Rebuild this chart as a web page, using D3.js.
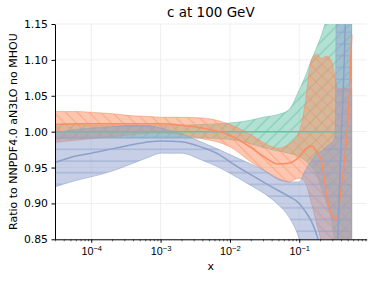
<!DOCTYPE html>
<html>
<head>
<meta charset="utf-8">
<script src="https://cdn.jsdelivr.net/npm/d3@7"></script>
<style>
  body { margin: 0; background: #fff; }
  svg { display: block; font-family: "DejaVu Sans", sans-serif; }
</style>
</head>
<body>
<div id="chart"></div>
<script>
// x grid (log) shared by every series
const xs = [3e-5, 6e-5, 1e-4, 2e-4, 4e-4, 7e-4, 1e-3, 2e-3, 4e-3, 7e-3, 1e-2, 2e-2, 3e-2, 5e-2, 7e-2,
            0.1, 0.12, 0.15, 0.18, 0.21, 0.25, 0.3, 0.33, 0.36, 0.4, 0.45, 0.5, 0.54, 0.57];

// green : reference (ratio = 1)
const greenMid = xs.map(() => 1.0);
const greenHi  = [1.010, 1.010, 1.009, 1.009, 1.009, 1.009, 1.009, 1.009, 1.010, 1.011, 1.012, 1.016, 1.020, 1.024, 1.030,
                  1.058, 1.075, 1.100, 1.118, 1.135, 1.160, 1.20, 1.25, 1.30, 1.35, 1.40, 1.45, 1.50, 1.50];
const greenLo  = [0.990, 0.990, 0.991, 0.991, 0.991, 0.991, 0.991, 0.991, 0.991, 0.990, 0.989, 0.983, 0.978, 0.973, 0.970,
                  0.965, 0.960, 0.950, 0.940, 0.920, 0.900, 0.870, 0.840, 0.800, 0.750, 0.700, 0.650, 0.600, 0.600];

// orange
const orangeMid = [1.010, 1.011, 1.011, 1.011, 1.011, 1.011, 1.011, 1.009, 1.005, 1.000, 0.995, 0.978, 0.966, 0.955, 0.956,
                   0.965, 0.975, 0.980, 0.972, 0.958, 0.910, 0.882, 0.877, 0.885, 0.920, 0.960, 1.010, 1.070, 1.135];
const orangeHi  = [1.028, 1.028, 1.027, 1.025, 1.022, 1.021, 1.020, 1.020, 1.019, 1.015, 1.010, 0.996, 0.985, 0.977, 0.982,
                   1.000, 1.035, 1.100, 1.108, 1.102, 1.105, 1.095, 1.075, 1.060, 1.060, 1.060, 1.060, 1.060, 1.060];
const orangeLo  = [0.985, 0.988, 0.990, 0.993, 0.996, 0.998, 0.998, 0.996, 0.990, 0.985, 0.979, 0.958, 0.947, 0.933, 0.930,
                   0.935, 0.930, 0.900, 0.870, 0.845, 0.800, 0.750, 0.700, 0.700, 0.700, 0.700, 0.700, 0.700, 0.700];

// blue
const blueMid = [0.957, 0.966, 0.970, 0.976, 0.982, 0.986, 0.987, 0.986, 0.978, 0.968, 0.958, 0.940, 0.930, 0.918, 0.910,
                 0.900, 0.890, 0.875, 0.855, 0.830, 0.750, 0.650, 0.750, 0.850, 0.980, 1.110, 1.300, 1.500, 1.500];
const blueHi  = [0.998, 1.003, 1.005, 1.007, 1.009, 1.008, 1.005, 0.997, 0.985, 0.975, 0.968, 0.955, 0.947, 0.935, 0.930,
                 0.930, 0.945, 0.960, 0.970, 0.973, 0.980, 0.985, 0.995, 1.600, 1.600, 1.600, 1.600, 1.600, 1.600];
const blueLo  = [0.923, 0.932, 0.937, 0.945, 0.956, 0.965, 0.970, 0.970, 0.960, 0.950, 0.942, 0.925, 0.915, 0.898, 0.882,
                 0.850, 0.820, 0.750, 0.700, 0.650, 0.600, 0.550, 0.500, 0.500, 0.500, 0.500, 0.500, 0.500, 0.500];

const yTicks = [0.85, 0.90, 0.95, 1.00, 1.05, 1.10, 1.15];
const xMajor = [1e-4, 1e-3, 1e-2, 1e-1];
const xMajorExp = ["\u22124", "\u22123", "\u22122", "\u22121"];

const title = "c at 100 GeV";
const yLabel = "Ratio to NNPDF4.0 aN3LO no MHOU";
const xLabel = "x";

//---------------------------------------------------------------------------------------

const W = 374, H = 281;
const plot = { left: 55, right: 366.7, top: 24, bottom: 239.3 };

const svg = d3.select("#chart").append("svg")
  .attr("width", W).attr("height", H)
  .attr("viewBox", [0, 0, W, H]);

const x = d3.scaleLog().domain([3e-5, 0.94]).range([plot.left, plot.right]);
const y = d3.scaleLinear().domain([0.85, 1.15]).range([plot.bottom, plot.top]);

const defs = svg.append("defs");
defs.append("clipPath").attr("id", "clip")
  .append("rect")
  .attr("x", plot.left).attr("y", plot.top)
  .attr("width", plot.right - plot.left).attr("height", plot.bottom - plot.top);

// motifs de hachures (un trait par tuile)
const s = 11.7;
const hatches = [
  { id: "h-green", color: "#66c2a5", op: 0.75, d: `M0,${s} L${s},0 M-1,1 L1,-1 M${s-1},${s+1} L${s+1},${s-1}` },
  { id: "h-orange", color: "#fc8d62", op: 0.6, d: `M0,0 L${s},${s} M-1,${s-1} L1,${s+1} M${s-1},-1 L${s+1},1` },
  { id: "h-blue", color: "#8da0cb", op: 0.75, d: `M0,${s*0.76} L${s},${s*0.76}` }
];
hatches.forEach(h => {
  defs.append("pattern")
    .attr("id", h.id)
    .attr("patternUnits", "userSpaceOnUse")
    .attr("width", s).attr("height", s)
    .append("path")
    .attr("d", h.d)
    .attr("stroke", h.color)
    .attr("stroke-opacity", h.op)
    .attr("stroke-width", 1)
    .attr("fill", "none");
});

// grille
const grid = svg.append("g");
grid.selectAll(".gx").data(xMajor).join("line")
  .attr("x1", d => x(d)).attr("x2", d => x(d))
  .attr("y1", plot.top).attr("y2", plot.bottom)
  .attr("stroke", "#ebebeb").attr("stroke-width", 0.8);
grid.selectAll(".gy").data(yTicks).join("line")
  .attr("x1", plot.left).attr("x2", plot.right)
  .attr("y1", d => y(d)).attr("y2", d => y(d))
  .attr("stroke", "#ebebeb").attr("stroke-width", 0.8);

//---------------------------------------------------------------------------------------

// bandes + lignes centrales
const series = [
  { color: "#66c2a5", hatch: "h-green", mid: greenMid, hi: greenHi, lo: greenLo },
  { color: "#fc8d62", hatch: "h-orange", mid: orangeMid, hi: orangeHi, lo: orangeLo },
  { color: "#8da0cb", hatch: "h-blue", mid: blueMid, hi: blueHi, lo: blueLo }
];

const plotG = svg.append("g").attr("clip-path", "url(#clip)");

const area = d3.area()
  .x(d => x(d.x)).y0(d => y(d.lo)).y1(d => y(d.hi))
  .curve(d3.curveMonotoneX);
const line = d3.line()
  .x(d => x(d.x)).y(d => y(d.v))
  .curve(d3.curveMonotoneX);

series.forEach(sr => {
  const pts = xs.map((v, i) => ({ x: v, lo: sr.lo[i], hi: sr.hi[i] }));
  plotG.append("path").datum(pts)
    .attr("d", area)
    .attr("fill", sr.color).attr("fill-opacity", 0.5)
    .attr("stroke", sr.color).attr("stroke-opacity", 0.6).attr("stroke-width", 0.9);
  plotG.append("path").datum(pts)
    .attr("d", area)
    .attr("fill", `url(#${sr.hatch})`);
});

series.forEach(sr => {
  const pts = xs.map((v, i) => ({ x: v, v: sr.mid[i] }));
  plotG.append("path").datum(pts)
    .attr("d", line)
    .attr("fill", "none")
    .attr("stroke", sr.color).attr("stroke-width", 1.5);
});

//---------------------------------------------------------------------------------------

// axes
const yAxis = svg.append("g")
  .attr("transform", `translate(${plot.left},0)`)
  .call(d3.axisLeft(y).tickValues(yTicks).tickFormat(d3.format(".2f"))
    .tickSize(3.5).tickPadding(3.5).tickSizeOuter(0));
yAxis.select(".domain").attr("stroke", "#000").attr("stroke-width", 1);
yAxis.selectAll("text").attr("font-size", 10.8).attr("fill", "#000")
  .attr("font-family", "DejaVu Sans, sans-serif");

const minor = [];
for (let e = -5; e <= -1; e++) {
  for (let k = 2; k <= 9; k++) {
    const v = k * Math.pow(10, e);
    if (v > 3e-5 && v < 0.94) minor.push(v);
  }
}
const xMinorG = svg.append("g")
  .attr("transform", `translate(0,${plot.bottom})`)
  .call(d3.axisBottom(x).tickValues(minor).tickFormat("").tickSize(2).tickSizeOuter(0));
xMinorG.select(".domain").remove();
xMinorG.selectAll("line").attr("stroke-width", 0.6);

const xAxis = svg.append("g")
  .attr("transform", `translate(0,${plot.bottom})`)
  .call(d3.axisBottom(x).tickValues(xMajor).tickFormat("").tickSize(3.5).tickSizeOuter(0));
xAxis.select(".domain").attr("stroke", "#000").attr("stroke-width", 1);
xAxis.selectAll(".tick text").remove();
xAxis.selectAll(".tick").each(function (d, i) {
  const t = d3.select(this).append("text")
    .attr("y", 16)
    .attr("text-anchor", "middle")
    .attr("fill", "#000")
    .attr("font-size", 10.8);
  t.append("tspan").text("10");
  t.append("tspan").attr("dy", -4.5).attr("font-size", 7.6).text(xMajorExp[i]);
});

// titraille
svg.append("text")
  .attr("x", (plot.left + plot.right) / 2).attr("y", 16.5)
  .attr("text-anchor", "middle").attr("font-size", 13.5).attr("fill", "#000")
  .text(title);

svg.append("text")
  .attr("transform", `translate(16.5,${(plot.top + plot.bottom) / 2}) rotate(-90)`)
  .attr("text-anchor", "middle").attr("font-size", 11).attr("fill", "#000")
  .text(yLabel);

svg.append("text")
  .attr("x", (plot.left + plot.right) / 2).attr("y", 270)
  .attr("text-anchor", "middle").attr("font-size", 11).attr("fill", "#000")
  .text(xLabel);
</script>
</body>
</html>
